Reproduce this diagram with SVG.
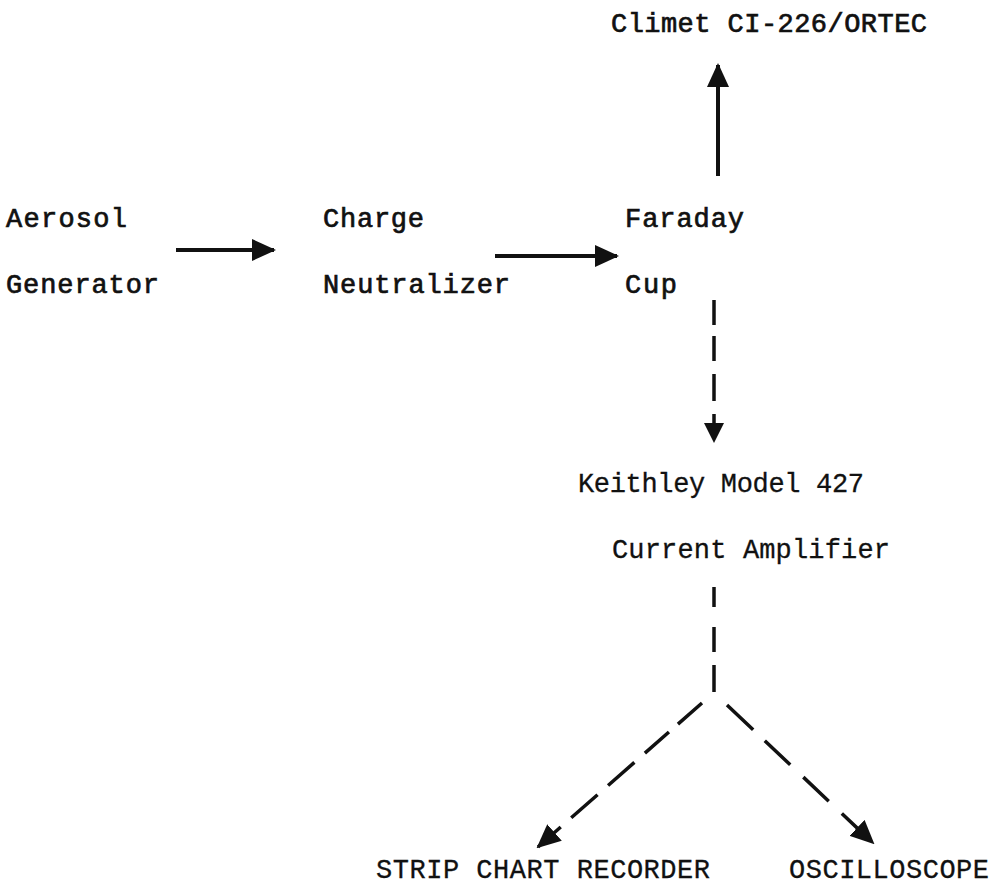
<svg xmlns="http://www.w3.org/2000/svg" width="998" height="889" viewBox="0 0 998 889">
<style>
text{font-family:"Liberation Mono","DejaVu Sans Mono",monospace;font-size:27px;fill:#111}
.b{stroke:#111;stroke-width:0.7}
.m{stroke:#111;stroke-width:0.3}
.solid{stroke:#111;stroke-width:4;fill:none}
.dash{stroke:#111;stroke-width:3.5;fill:none}
</style>
<defs>
<marker id="ah" markerUnits="userSpaceOnUse" markerWidth="24" markerHeight="22" refX="22" refY="11" orient="auto" viewBox="0 0 24 22">
<path d="M0,0 L24,11 L0,22 Z" fill="#111"/>
</marker>
</defs>
<rect width="998" height="889" fill="#fff"/>
<g id="climet"><text class="b" x="611" y="32" textLength="316" lengthAdjust="spacing">Climet CI-226/ORTEC</text></g>
<g id="aerosol"><text class="b" x="6" y="227" textLength="121" lengthAdjust="spacing">Aerosol</text><text class="b" x="6" y="293" textLength="153" lengthAdjust="spacing">Generator</text></g>
<g id="charge"><text class="b" x="323" y="227" textLength="101" lengthAdjust="spacing">Charge</text><text class="b" x="323" y="293" textLength="187" lengthAdjust="spacing">Neutralizer</text></g>
<g id="faraday"><text class="b" x="625" y="227" textLength="119" lengthAdjust="spacing">Faraday</text><text class="b" x="625" y="293" textLength="52" lengthAdjust="spacing">Cup</text></g>
<g id="keithley"><text class="m" x="578" y="492" textLength="286" lengthAdjust="spacing">Keithley Model 427</text><text class="m" x="612" y="558" textLength="278" lengthAdjust="spacing">Current Amplifier</text></g>
<g id="strip"><text class="m" x="376" y="878" textLength="334" lengthAdjust="spacing">STRIP CHART RECORDER</text></g>
<g id="osc"><text class="m" x="789" y="878" textLength="200" lengthAdjust="spacing">OSCILLOSCOPE</text></g>
<g id="connectors">
<line class="solid" x1="176" y1="250" x2="274" y2="250" marker-end="url(#ah)"/>
<line class="solid" x1="495" y1="256" x2="617" y2="256" marker-end="url(#ah)"/>
<line class="solid" x1="718" y1="176" x2="718" y2="65" marker-end="url(#ah)"/>
<line class="dash" x1="714" y1="300" x2="714" y2="443" stroke-dasharray="25 11 25 13 27 13 10 100"/>
<path d="M704,423 L724,423 L714,443 Z" fill="#111"/>
<line class="dash" x1="714" y1="587" x2="714" y2="692" stroke-dasharray="20 20 25 13 27 50"/>
<line class="dash" x1="702" y1="703" x2="538" y2="847" stroke-dasharray="32 12 32 14 35 14 35 14 200" marker-end="url(#ah)"/>
<line class="dash" x1="727" y1="705" x2="873" y2="843" stroke-dasharray="36 16 35 18 35 18 30 200" marker-end="url(#ah)"/>
</g>
</svg>
